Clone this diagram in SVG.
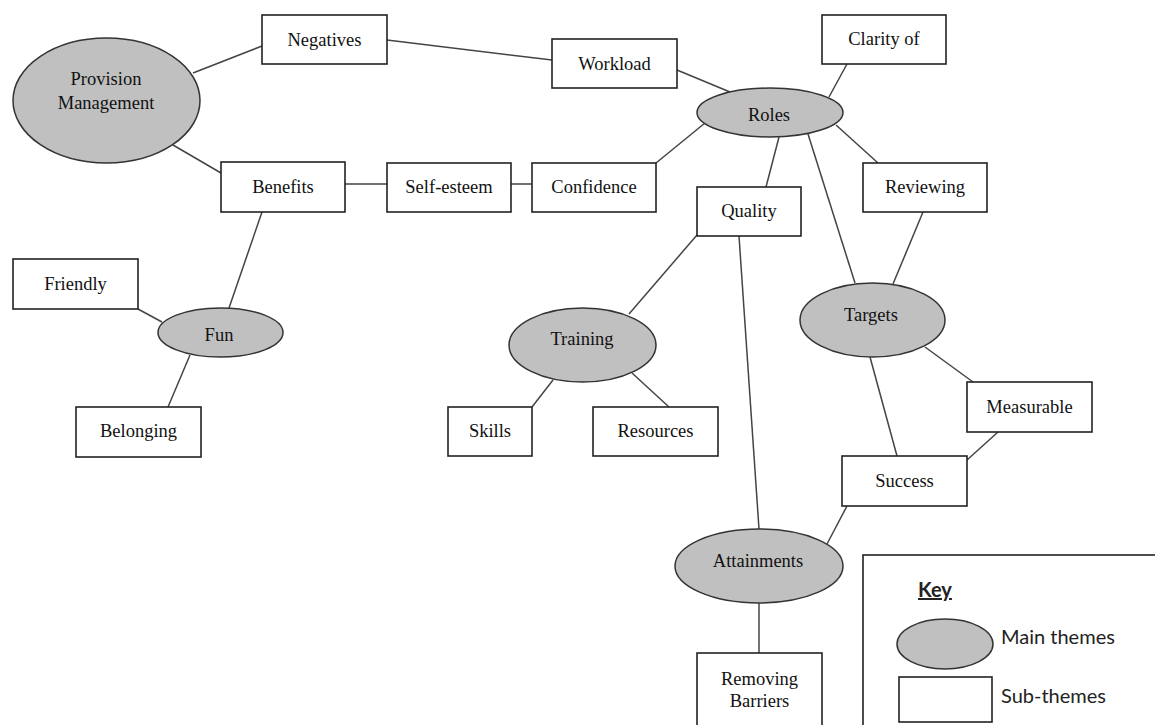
<svg xmlns="http://www.w3.org/2000/svg" width="1155" height="725" viewBox="0 0 1155 725">
<style>
.box{fill:#fff;stroke:#222;stroke-width:1.6}
.main{fill:#c0c0c0;stroke:#333;stroke-width:1.5}
.t{font-family:"Liberation Serif","Times New Roman",serif;font-size:18.5px;fill:#111;text-anchor:middle}
.k{font-family:Lato,"Open Sans",sans-serif;font-size:20px;fill:#222}
#connectors line{stroke:#444;stroke-width:1.5}
</style>
<rect width="1155" height="725" fill="#fff"/>
<g id="connectors">
<line x1="193" y1="73" x2="262" y2="46"/>
<line x1="173" y1="145" x2="221" y2="173"/>
<line x1="387" y1="40" x2="552" y2="60"/>
<line x1="677" y1="70" x2="730" y2="92"/>
<line x1="345" y1="184" x2="387" y2="184"/>
<line x1="511" y1="184" x2="532" y2="184"/>
<line x1="656" y1="163" x2="705" y2="123"/>
<line x1="847" y1="64" x2="829" y2="97"/>
<line x1="779" y1="137" x2="766" y2="187"/>
<line x1="808" y1="134" x2="855" y2="283"/>
<line x1="836" y1="125" x2="878" y2="163"/>
<line x1="923" y1="212" x2="893" y2="284"/>
<line x1="739" y1="236" x2="759" y2="529"/>
<line x1="697" y1="235" x2="629" y2="314"/>
<line x1="262" y1="212" x2="229" y2="308"/>
<line x1="138" y1="309" x2="162" y2="322"/>
<line x1="190" y1="355" x2="168" y2="407"/>
<line x1="553" y1="380" x2="532" y2="407"/>
<line x1="632" y1="373" x2="669" y2="407"/>
<line x1="925" y1="347" x2="973" y2="382"/>
<line x1="870" y1="357" x2="897" y2="456"/>
<line x1="998" y1="432" x2="967" y2="460"/>
<line x1="847" y1="506" x2="827" y2="544"/>
<line x1="759" y1="603" x2="759" y2="653"/>
</g>
<g id="provision-management"><ellipse class="main" cx="106.5" cy="100.5" rx="93.5" ry="62.5"/><text class="t" x="106" y="85">Provision</text><text class="t" x="106" y="109">Management</text></g>
<g id="negatives"><rect class="box" x="262" y="15" width="125" height="49"/><text class="t" x="324.5" y="46">Negatives</text></g>
<g id="workload"><rect class="box" x="552" y="39" width="125" height="49"/><text class="t" x="614.5" y="70">Workload</text></g>
<g id="clarity-of"><rect class="box" x="822" y="15" width="124" height="49"/><text class="t" x="884" y="45">Clarity of</text></g>
<g id="roles"><ellipse class="main" cx="770" cy="112.5" rx="73" ry="24.5"/><text class="t" x="769" y="121">Roles</text></g>
<g id="benefits"><rect class="box" x="221" y="162" width="124" height="50"/><text class="t" x="283" y="193">Benefits</text></g>
<g id="self-esteem"><rect class="box" x="387" y="163" width="124" height="49"/><text class="t" x="449" y="193">Self-esteem</text></g>
<g id="confidence"><rect class="box" x="532" y="163" width="124" height="49"/><text class="t" x="594" y="193">Confidence</text></g>
<g id="quality"><rect class="box" x="697" y="187" width="104" height="49"/><text class="t" x="749" y="217">Quality</text></g>
<g id="reviewing"><rect class="box" x="863" y="163" width="124" height="49"/><text class="t" x="925" y="193">Reviewing</text></g>
<g id="friendly"><rect class="box" x="13" y="259" width="125" height="50"/><text class="t" x="75.5" y="290">Friendly</text></g>
<g id="fun"><ellipse class="main" cx="220.5" cy="332.5" rx="62.5" ry="24.5"/><text class="t" x="219" y="341">Fun</text></g>
<g id="belonging"><rect class="box" x="76" y="407" width="125" height="50"/><text class="t" x="138.5" y="437">Belonging</text></g>
<g id="training"><ellipse class="main" cx="582.5" cy="345" rx="73.5" ry="37"/><text class="t" x="582" y="345">Training</text></g>
<g id="skills"><rect class="box" x="448" y="407" width="84" height="49"/><text class="t" x="490" y="437">Skills</text></g>
<g id="resources"><rect class="box" x="593" y="407" width="125" height="49"/><text class="t" x="655.5" y="437">Resources</text></g>
<g id="targets"><ellipse class="main" cx="872.5" cy="320" rx="72.5" ry="37"/><text class="t" x="871" y="321">Targets</text></g>
<g id="measurable"><rect class="box" x="967" y="382" width="125" height="50"/><text class="t" x="1029.5" y="413">Measurable</text></g>
<g id="success"><rect class="box" x="842" y="456" width="125" height="50"/><text class="t" x="904.5" y="487">Success</text></g>
<g id="attainments"><ellipse class="main" cx="759" cy="566" rx="84" ry="37"/><text class="t" x="758" y="567">Attainments</text></g>
<g id="removing-barriers"><rect class="box" x="697" y="653" width="125" height="80"/><text class="t" x="759.5" y="685">Removing</text><text class="t" x="759.5" y="707">Barriers</text></g>
<g id="key">
<rect x="863" y="555" width="300" height="180" fill="#fff" stroke="#222" stroke-width="1.6"/>
<text class="k" x="918" y="597" font-weight="bold" text-decoration="underline">Key</text>
<ellipse class="main" cx="945" cy="644" rx="48" ry="25"/>
<text class="k" x="1001" y="644">Main themes</text>
<rect class="box" x="899" y="677" width="93" height="45"/>
<text class="k" x="1001" y="703">Sub-themes</text>
</g>
</svg>
